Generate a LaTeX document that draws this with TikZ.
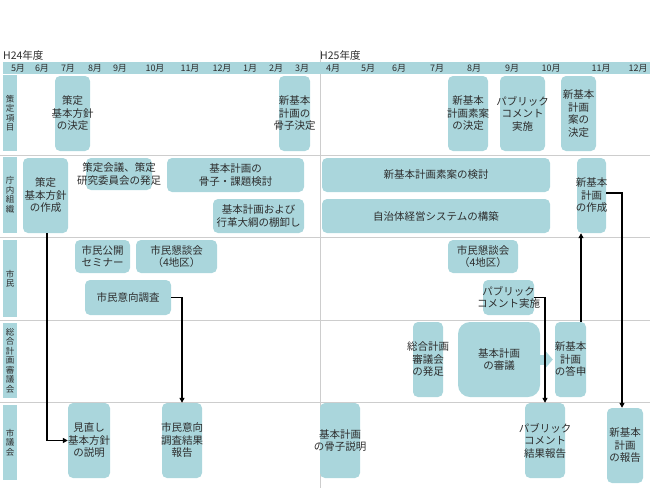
\documentclass[tikz,border=0pt]{standalone}
\usepackage{fontspec}
\setmainfont{Noto Sans CJK JP}
\usetikzlibrary{arrows.meta}
\definecolor{boxc}{RGB}{170,214,220}
\definecolor{gridc}{RGB}{205,205,205}
\definecolor{textc}{RGB}{45,45,45}
\tikzset{
  box/.style={fill=boxc,rounded corners=5pt,inner sep=0pt},
  txt/.style={align=center,text=textc,inner sep=0pt,font=\fontsize{10.5}{12.5}\selectfont},
  rowlab/.style={fill=boxc,inner sep=0pt,minimum width=14pt,align=center,text=textc,font=\fontsize{8.5}{9.5}\selectfont},
  month/.style={text=textc,inner sep=0pt,font=\fontsize{9}{9}\selectfont},
  flow/.style={line width=1.3pt,-{Triangle[length=5pt,width=5pt]}},
  chev/.style={draw=boxc,line width=10pt,-{Triangle[length=7pt,width=16pt]},shorten >=2pt},
}
\begin{document}
\begin{tikzpicture}[x=1pt,y=-1pt]
\useasboundingbox (0,0) rectangle (650,488);
% grid
\draw[gridc] (0,155) -- (650,155);
\draw[gridc] (0,237) -- (650,237);
\draw[gridc] (0,320) -- (650,320);
\draw[gridc] (0,402) -- (650,402);
\draw[gridc] (320,50) -- (320,488);
% header
\fill[boxc] (3,62) rectangle (650,74);
\node[month,anchor=west,font=\fontsize{10.5}{10.5}\selectfont] (h24) at (3,55) {H24年度};
\node[month,anchor=west,font=\fontsize{10.5}{10.5}\selectfont] (h25) at (320,55) {H25年度};
\node[month] (m05) at (18,68) {5月};
\node[month] (m06) at (42,68) {6月};
\node[month] (m07) at (68,68) {7月};
\node[month] (m08) at (95,68) {8月};
\node[month] (m09) at (120,68) {9月};
\node[month] (m10) at (155,68) {10月};
\node[month] (m11) at (190,68) {11月};
\node[month] (m12) at (222,68) {12月};
\node[month] (m01) at (250,68) {1月};
\node[month] (m02) at (276,68) {2月};
\node[month] (m03) at (302,68) {3月};
\node[month] (n04) at (333,68) {4月};
\node[month] (n05) at (368,68) {5月};
\node[month] (n06) at (399,68) {6月};
\node[month] (n07) at (437,68) {7月};
\node[month] (n08) at (474,68) {8月};
\node[month] (n09) at (512,68) {9月};
\node[month] (n10) at (551,68) {10月};
\node[month] (n11) at (601,68) {11月};
\node[month] (n12) at (638,68) {12月};
% row labels
\node[rowlab,minimum height=76pt] (rKomoku) at (10,113) {策\\定\\項\\目};
\node[rowlab,minimum height=76pt] (rChonai) at (10,195) {庁\\内\\組\\織};
\node[rowlab,minimum height=77pt] (rShimin) at (10,278.5) {市\\民};
\node[rowlab,minimum height=75pt] (rShingi) at (10,360.5) {総\\合\\計\\画\\審\\議\\会};
\node[rowlab,minimum height=75pt] (rGikai) at (10,442.5) {市\\議\\会};
% 策定項目
\node[box,minimum width=35pt,minimum height=75pt,label={[txt]center:策定\\基本方針\\の決定}] (houshinKettei) at (72.5,113.5) {};
\node[box,minimum width=31pt,minimum height=75pt,label={[txt]center:新基本\\計画の\\骨子決定}] (kosshiKettei) at (294.5,113.5) {};
\node[box,minimum width=40pt,minimum height=75pt,label={[txt]center:新基本\\計画素案\\の決定}] (soanKettei) at (468,113.5) {};
\node[box,minimum width=45pt,minimum height=75pt,label={[txt]center:パブリック\\コメント\\実施}] (pcJisshi) at (522.5,113.5) {};
\node[box,minimum width=35pt,minimum height=75pt,label={[txt]center:新基本\\計画\\案の\\決定}] (anKettei) at (578.5,113.5) {};
% 庁内組織
\node[box,minimum width=45pt,minimum height=75pt,label={[txt]center:策定\\基本方針\\の作成}] (houshinSakusei) at (45.5,195.5) {};
\node[box,minimum width=66pt,minimum height=32pt,label={[txt]center:策定会議、策定\\研究委員会の発足}] (hossoku) at (119,174) {};
\node[box,minimum width=137pt,minimum height=34pt,label={[txt]center:基本計画の\\骨子・課題検討}] (kosshiKento) at (235.5,175) {};
\node[box,minimum width=91pt,minimum height=34pt,label={[txt]center:基本計画および\\行革大綱の棚卸し}] (tanaoroshi) at (258.5,216) {};
\node[box,minimum width=228pt,minimum height=34pt,label={[txt]center:新基本計画素案の検討}] (soanKento) at (436,175) {};
\node[box,minimum width=228pt,minimum height=34pt,label={[txt]center:自治体経営システムの構築}] (keiei) at (436,216) {};
\node[box,minimum width=29pt,minimum height=75pt,label={[txt]center:新基本\\計画\\の作成}] (keikakuSakusei) at (591.5,195.5) {};
% 市民
\node[box,minimum width=55pt,minimum height=33pt,label={[txt]center:市民公開\\セミナー}] (seminar) at (102.5,256.5) {};
\node[box,minimum width=81pt,minimum height=33pt,label={[txt]center:市民懇談会\\（4地区）}] (kondankai) at (176.5,256.5) {};
\node[box,minimum width=86pt,minimum height=35pt,label={[txt]center:市民意向調査}] (ikouChousa) at (128,297.5) {};
\node[box,minimum width=70pt,minimum height=33pt,label={[txt]center:市民懇談会\\（4地区）}] (kondankai2) at (483,256.5) {};
\node[box,minimum width=51pt,minimum height=35pt,label={[txt]center:パブリック\\コメント実施}] (pcJisshi2) at (508.5,297.5) {};
% 総合計画審議会
\node[box,minimum width=30pt,minimum height=75pt,label={[txt]center:総合計画\\審議会\\の発足}] (shingikai) at (428,359.5) {};
\node[box,rounded corners=12pt,minimum width=82pt,minimum height=75pt,label={[txt]center:基本計画\\の審議}] (shingi) at (499,359.5) {};
\node[box,minimum width=31pt,minimum height=75pt,label={[txt]center:新基本\\計画\\の答申}] (toshin) at (570.5,359.5) {};
% 市議会
\node[box,minimum width=42pt,minimum height=75pt,label={[txt]center:見直し\\基本方針\\の説明}] (setsumei) at (89,440.5) {};
\node[box,minimum width=40pt,minimum height=75pt,label={[txt]center:市民意向\\調査結果\\報告}] (chousaHoukoku) at (182,440.5) {};
\node[box,minimum width=40pt,minimum height=75pt,label={[txt]center:基本計画\\の骨子説明}] (kosshiSetsumei) at (340,440.5) {};
\node[box,minimum width=40pt,minimum height=75pt,label={[txt]center:パブリック\\コメント\\結果報告}] (pcHoukoku) at (545,440.5) {};
\node[box,minimum width=36pt,minimum height=75pt,label={[txt]center:新基本\\計画\\の報告}] (keikakuHoukoku) at (625,445.5) {};
% arrows
\draw[chev] (shingi.east) -- (toshin.west);
\draw[flow] ([xshift=1.5pt]houshinSakusei.south) |- (setsumei.west);
\draw[flow] (ikouChousa.east) -| (chousaHoukoku.north);
\draw[flow] (pcJisshi2.east) -| (pcHoukoku.north);
\draw[flow] ([xshift=10.5pt]toshin.north) -- ([xshift=-10.5pt]keikakuSakusei.south);
\draw[flow] ([yshift=2.5pt]keikakuSakusei.east) -| ([xshift=-3pt]keikakuHoukoku.north);
\end{tikzpicture}
\end{document}
